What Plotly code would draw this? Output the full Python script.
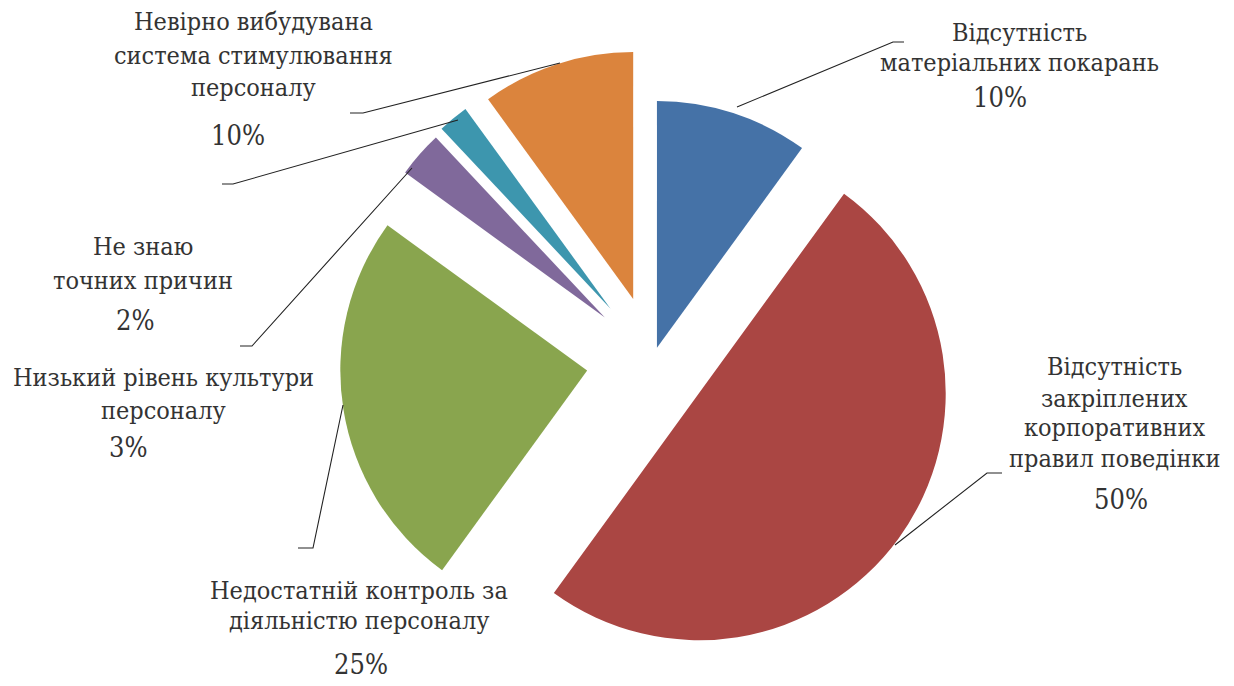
import plotly.graph_objects as go

# ---- data ----
categories = [
    "Відсутність матеріальних покарань",
    "Відсутність закріплених корпоративних правил поведінки",
    "Недостатній контроль за діяльністю персоналу",
    "Низький рівень культури персоналу",
    "Не знаю точних причин",
    "Невірно вибудувана система стимулювання персоналу",
]
values = [10, 50, 25, 3, 2, 10]
label_lines = [
    ["Відсутність", "матеріальних покарань"],
    ["Відсутність", "закріплених", "корпоративних", "правил поведінки"],
    ["Недостатній контроль за", "діяльністю персоналу"],
    ["Низький рівень культури", "персоналу"],
    ["Не знаю", "точних причин"],
    ["Невірно вибудувана", "система стимулювання", "персоналу"],
]
colors = ["#4572A7", "#AA4643", "#89A54E", "#80699B", "#3D96AE", "#DB843D"]
pulls = [0.052, 0.23, 0.27, 0.26, 0.27, 0.26]

W, H = 1234, 686

# label layout (pixel positions)
label_pos = [
    dict(x=1019, ys=[32, 63], px=1000, py=98),
    dict(x=1114, ys=[366, 398, 427, 458], px=1121, py=500),
    dict(x=359, ys=[590, 620], px=361, py=664),
    dict(x=163, ys=[377, 410], px=128, py=448),
    dict(x=143, ys=[247, 280], px=135, py=320),
    dict(x=253, ys=[22, 55, 87], px=238, py=135),
]
leaders = [
    [(737, 107), (893, 42), (904, 42)],
    [(895, 545), (987, 473), (1002, 473)],
    [(343, 405), (313, 548), (298, 548)],
    [(412, 168), (252, 346), (240, 346)],
    [(458, 120), (233, 184), (222, 184)],
    [(560, 63), (363, 113), (350, 113)],
]


def fx(x):
    return x / W


def fy(y):
    return 1 - y / H


fig = go.Figure(
    go.Pie(
        labels=categories,
        values=values,
        sort=False,
        direction="clockwise",
        rotation=0,
        pull=pulls,
        marker=dict(colors=colors, line=dict(width=0)),
        textinfo="none",
        hoverinfo="label+percent",
        showlegend=False,
        domain=dict(x=[fx(339.5), fx(966.5)], y=[fy(673.5), fy(46.5)]),
    )
)

family = "DejaVu Serif Condensed, DejaVu Serif"
font = dict(family=family, size=25, color="#333333")
pct_font = dict(family=family, size=27, color="#333333")
annotations = []
for lines, pos, v in zip(label_lines, label_pos, values):
    for t, y in zip(lines, pos["ys"]):
        annotations.append(dict(x=fx(pos["x"]), y=fy(y), xref="paper", yref="paper",
                                text=t, showarrow=False, font=font,
                                xanchor="center", yanchor="middle"))
    annotations.append(dict(x=fx(pos["px"]), y=fy(pos["py"]), xref="paper", yref="paper",
                            text=f"{v}%", showarrow=False, font=pct_font,
                            xanchor="center", yanchor="middle"))

shapes = []
for pts in leaders:
    path = "M " + " L ".join(f"{fx(x)},{fy(y)}" for x, y in pts)
    shapes.append(dict(type="path", path=path, xref="paper", yref="paper",
                       line=dict(color="#222222", width=1.1)))

fig.update_layout(
    width=W, height=H,
    margin=dict(l=0, r=0, t=0, b=0),
    paper_bgcolor="white", plot_bgcolor="white",
    font=dict(family=family),
    annotations=annotations, shapes=shapes,
)

fig.write_html("out.html")
